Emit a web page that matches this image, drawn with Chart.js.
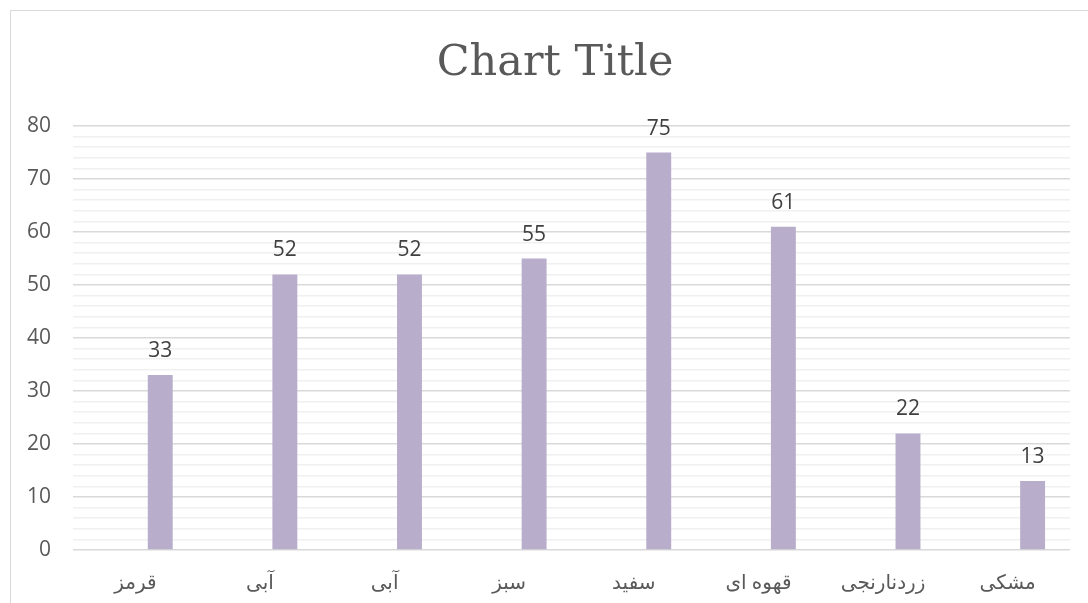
<!DOCTYPE html>
<html lang="fa">
<head>
    <meta charset="UTF-8">
    <title>Chart Title</title>
    <script src="https://cdn.jsdelivr.net/npm/chart.js"></script>
    <style>
        html, body { margin: 0; padding: 0; background: #fff; }
        .frame { position: absolute; left: 10px; top: 10px; width: 1100px; height: 620px; border: 1px solid #d9d9d9; }
        .chart-box { position: absolute; left: 0; top: 0; width: 1088px; height: 603px; }
    </style>
</head>
<body>
    <div class="frame"></div>
    <div class="chart-box">
        <canvas id="colorsChart"></canvas>
    </div>

    <script>
        // داده ها
        const categories = ['قرمز', 'آبی', 'آبی', 'سبز', 'سفید', 'قهوه ای', 'زردنارنجی', 'مشکی'];
        const series1 = [null, null, null, null, null, null, null, null];
        const series2 = [null, null, null, null, null, null, null, null];
        const series3 = [33, 52, 52, 55, 75, 61, 22, 13];
        const yMin = 0;
        const yMax = 80;
        const yStep = 2;
        const chartTitle = 'Chart Title';

        const barColor = '#b8aecb';
        const textColor = '#595959';
        const baseFont = '"Open Sans", "DejaVu Sans", sans-serif';

        // برچسب مقدار بالای هر ستون + عنوان
        const valueLabels = {
            id: 'valueLabels',
            afterDatasetsDraw(chart) {
                const ctx = chart.ctx;
                ctx.save();
                ctx.font = '21px ' + baseFont;
                ctx.fillStyle = '#404040';
                ctx.textAlign = 'center';
                ctx.textBaseline = 'alphabetic';
                chart.data.datasets.forEach((ds, i) => {
                    const meta = chart.getDatasetMeta(i);
                    meta.data.forEach((bar, j) => {
                        const v = ds.data[j];
                        if (v === null || v === undefined) return;
                        ctx.fillText(String(v), bar.x, bar.y - 18);
                    });
                });

                // عنوان نمودار (کمی راست تر از وسط، مثل اکسل)
                ctx.font = '43px "DejaVu Serif", serif';
                ctx.fillStyle = textColor;
                ctx.textBaseline = 'middle';
                ctx.fillText(chartTitle, 555, 64);
                ctx.restore();
            }
        };

        const ctx = document.getElementById('colorsChart').getContext('2d');
        const chart = new Chart(ctx, {
            type: 'bar',
            data: {
                labels: categories,
                datasets: [
                    { label: 'Series 1', data: series1, backgroundColor: barColor },
                    { label: 'Series 2', data: series2, backgroundColor: barColor },
                    { label: 'Series 3', data: series3, backgroundColor: barColor }
                ]
            },
            options: {
                responsive: true,
                maintainAspectRatio: false,
                animation: false,
                categoryPercentage: 0.6,
                barPercentage: 1.0,
                layout: { padding: { left: 0, right: 18, top: 126, bottom: 0 } },
                plugins: {
                    legend: { display: false },
                    tooltip: { enabled: false },
                    title: { display: false }
                },
                scales: {
                    x: {
                        grid: { display: false },
                        border: { display: false },
                        ticks: {
                            color: textColor,
                            font: { family: baseFont, size: 20 },
                            padding: 13,
                            maxRotation: 0
                        },
                        afterFit(scale) { scale.height = 53; }
                    },
                    y: {
                        min: yMin,
                        max: yMax,
                        border: { display: false },
                        grid: {
                            drawTicks: false,
                            color: (c) => (c.tick && c.tick.value % 10 === 0) ? '#d9d9d9' : '#f0f0f0',
                            lineWidth: 1.5
                        },
                        ticks: {
                            stepSize: yStep,
                            maxTicksLimit: 100,
                            autoSkip: false,
                            color: textColor,
                            font: { family: baseFont, size: 21 },
                            padding: 22,
                            callback: (v) => (v % 10 === 0 ? String(v) : '')
                        },
                        afterFit(scale) { scale.width = 73; }
                    }
                }
            },
            plugins: [valueLabels]
        });
    </script>
</body>
</html>
